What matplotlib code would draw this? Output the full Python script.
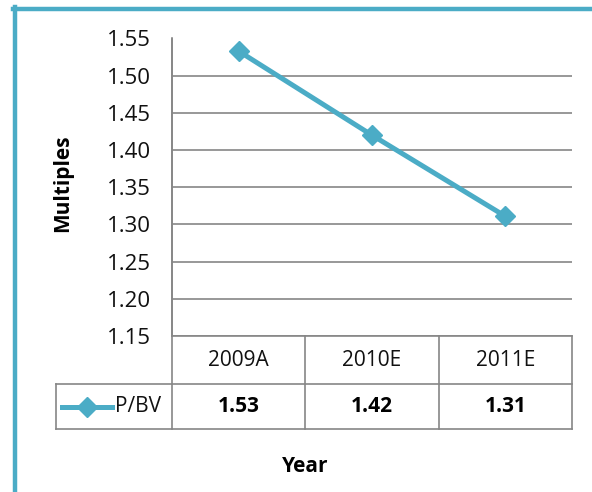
import matplotlib.pyplot as plt
from matplotlib.lines import Line2D

years = ["2009A", "2010E", "2011E"]
pbv = [1.533, 1.42, 1.311]
series_name = "P/BV"
yticks = [1.15, 1.20, 1.25, 1.30, 1.35, 1.40, 1.45, 1.50, 1.55]

teal = "#4BACC6"
grid = "#868686"
font = "Open Sans"

W, H = 592, 492
fig = plt.figure(figsize=(W / 100, H / 100), dpi=100)

# plot area in pixel terms
left, right, top, bottom = 172, 572, 38.5, 336
ax = fig.add_axes([left / W, 1 - bottom / H, (right - left) / W, (bottom - top) / H])

x = list(range(len(years)))
ax.plot(x, pbv, color=teal, lw=3.6, marker="D", ms=10, zorder=3, clip_on=False)

ax.set_xlim(-0.5, len(years) - 0.5)
ax.set_ylim(yticks[0], yticks[-1])
ax.set_yticks(yticks)
ax.set_yticklabels([f"{t:.2f}" for t in yticks], fontsize=16, family=font,
                   color="#111111")
ax.tick_params(axis="y", length=0, pad=15)
ax.set_xticks([])
ax.grid(axis="y", color=grid, lw=1.2)
ax.set_axisbelow(True)
for s in ["top", "right", "bottom"]:
    ax.spines[s].set_visible(False)
ax.spines["left"].set_color(grid)
ax.spines["left"].set_linewidth(1.2)

# data table under the plot (x in data units, y in axes units)
tr = ax.get_xaxis_transform()
px = (right - left) / 3.0  # pixels per category
row1 = -(384 - bottom) / (bottom - top)
row2 = -(429 - bottom) / (bottom - top)
leg_left = -0.5 - (left - 56) / px
lk = dict(color=grid, lw=1.2, transform=tr, clip_on=False)
ax.plot([-0.5, 2.5], [0, 0], **lk)
ax.plot([leg_left, 2.5], [row1, row1], **lk)
ax.plot([leg_left, 2.5], [row2, row2], **lk)
ax.plot([-0.5, -0.5], [1, row2], **lk)
ax.plot([leg_left, leg_left], [row1, row2], **lk)
for b in [0.5, 1.5, 2.5]:
    ax.plot([b, b], [0, row2], **lk)

for i, (yr, v) in enumerate(zip(years, pbv)):
    ax.text(i, row1 / 2, yr, transform=tr, ha="center", va="center",
            fontsize=15, family=font, color="#111111")
    ax.text(i, (row1 + row2) / 2, f"{v:.2f}", transform=tr, ha="center",
            va="center", fontsize=15, family=font, fontweight="bold")

# legend key inside the table
ymid = (row1 + row2) / 2
kx0 = -0.5 - (left - 62) / px
kx1 = -0.5 - (left - 112) / px
ax.plot([kx0, kx1], [ymid, ymid], color=teal, lw=3.6, transform=tr, clip_on=False)
ax.plot([(kx0 + kx1) / 2], [ymid], color=teal, marker="D", ms=10,
        transform=tr, clip_on=False)
ax.text(-0.5 - (left - 115) / px, ymid, series_name, transform=tr,
        ha="left", va="center", fontsize=15, family=font, color="#111111")

fig.text(63 / W, 1 - 183 / H, "Multiples", rotation=90, ha="center", va="center",
         fontsize=15, fontweight="bold", family=font)
fig.text(305 / W, 1 - 466 / H, "Year", ha="center", va="center",
         fontsize=15, fontweight="bold", family=font)

# teal frame around the chart
fig.add_artist(Line2D([14.5 / W, 14.5 / W], [0, 1 - 7 / H], color=teal, lw=3.2))
fig.add_artist(Line2D([13 / W, 1], [1 - 8.5 / H, 1 - 8.5 / H], color=teal, lw=3.2))

fig.savefig("out.png", dpi=100)
